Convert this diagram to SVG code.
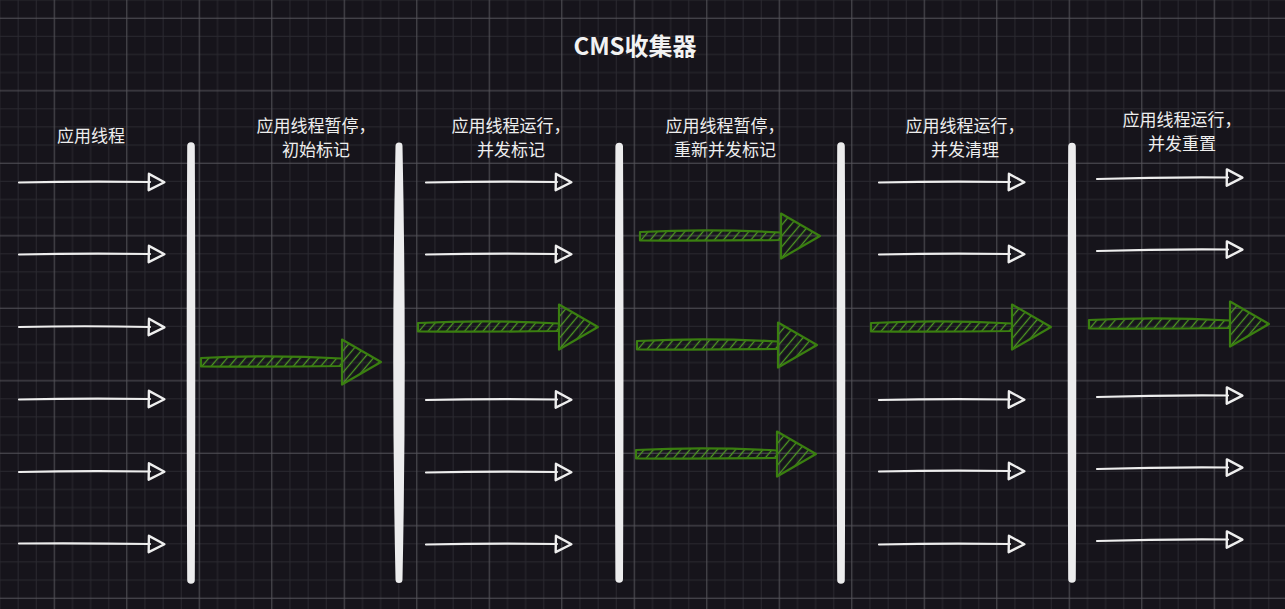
<svg xmlns="http://www.w3.org/2000/svg" xmlns:xlink="http://www.w3.org/1999/xlink" width="1285" height="609" viewBox="0 0 1285 609">
<style>
.lbl{font-family:"Noto Sans CJK SC","Noto Sans",sans-serif;font-size:17px;fill:#eeeeee;text-anchor:middle}
.ttl{font-family:"Noto Sans CJK SC","Noto Sans",sans-serif;font-size:24px;font-weight:bold;fill:#f2f2f2;text-anchor:middle}
.bar{fill:#ececed}
.w{fill:none;stroke:#eeeeee;stroke-width:2.2;stroke-linecap:round;marker-end:url(#ah)}
.g{fill:url(#hatch);stroke:#3a7f10;stroke-width:2.2;stroke-linejoin:round}
.mn{stroke:#2a2930;stroke-width:1}
.mj{stroke:#55545a;stroke-width:1}
</style>
<defs>
<pattern id="grid" x="9" y="9" width="72.5" height="72.5" patternUnits="userSpaceOnUse">
<line class="mn" x1="9.125" y1="0" x2="9.125" y2="72.5"/>
<line class="mn" x1="27.25" y1="0" x2="27.25" y2="72.5"/>
<line class="mn" x1="63.5" y1="0" x2="63.5" y2="72.5"/>
<line class="mn" x1="0" y1="27.25" x2="72.5" y2="27.25"/>
<line class="mn" x1="0" y1="45.375" x2="72.5" y2="45.375"/>
<line class="mn" x1="0" y1="63.5" x2="72.5" y2="63.5"/>
<line class="mj" x1="45.375" y1="0" x2="45.375" y2="72.5"/>
<line class="mj" x1="0" y1="9.125" x2="72.5" y2="9.125"/>
</pattern>
<pattern id="hatch" width="7" height="7" patternUnits="userSpaceOnUse" patternTransform="rotate(40)">
<line x1="3.5" y1="0" x2="3.5" y2="7" stroke="#4e9a22" stroke-width="1.3"/>
</pattern>
<marker id="ah" markerUnits="userSpaceOnUse" markerWidth="24" markerHeight="24" viewBox="-4 -10 20 20" refX="0" refY="0" orient="auto" overflow="visible">
<path d="M-1,-6.8 L12,0 L-1,6.8 Z" fill="none" stroke="#eeeeee" stroke-width="2" stroke-linejoin="round"/>
</marker>
<g id="ga">
<path class="g" d="M0,-4 Q70,-7.5 141,-3.5 L141,4 Q70,5 0,4.5 Z"/>
<path class="g" d="M141,-22.5 L180,0 L141,22.5 Z"/>
</g>
</defs>
<rect width="1285" height="609" fill="#16141b"/>
<rect width="1285" height="609" fill="url(#grid)"/>

<g id="title"><text class="ttl" x="635" y="55">CMS收集器</text></g>

<g id="label1"><text class="lbl" x="91" y="142">应用线程</text></g>
<g id="label2"><text class="lbl" x="316" y="132">应用线程暂停，</text><text class="lbl" x="316" y="156">初始标记</text></g>
<g id="label3"><text class="lbl" x="511" y="132">应用线程运行，</text><text class="lbl" x="511" y="156">并发标记</text></g>
<g id="label4"><text class="lbl" x="725" y="132">应用线程暂停，</text><text class="lbl" x="725" y="156">重新并发标记</text></g>
<g id="label5"><text class="lbl" x="965" y="132">应用线程运行，</text><text class="lbl" x="965" y="156">并发清理</text></g>
<g id="label6"><text class="lbl" x="1182" y="126">应用线程运行，</text><text class="lbl" x="1182" y="150">并发重置</text></g>

<g id="bar1"><path class="bar" d="M187.2,146 Q186.2,362 187.2,580 A3.8,3.8 0 0 0 194.8,580 Q195.8,362 194.8,146 A3.8,3.8 0 0 0 187.2,146 Z"/></g>
<g id="bar2"><path class="bar" d="M395.5,146 Q391,362 395.5,579.5 A3.5,3.5 0 0 0 402.5,579.5 Q407,362 402.5,146 A3.5,3.5 0 0 0 395.5,146 Z"/></g>
<g id="bar3"><path class="bar" d="M615.4,146.5 Q614.4,362 615.4,579 A3.8,3.8 0 0 0 623,579 Q624,362 623,146.5 A3.8,3.8 0 0 0 615.4,146.5 Z"/></g>
<g id="bar4"><path class="bar" d="M837.2,146 Q836.2,362 837.2,580 A3.8,3.8 0 0 0 844.8,580 Q845.8,362 844.8,146 A3.8,3.8 0 0 0 837.2,146 Z"/></g>
<g id="bar5"><path class="bar" d="M1068.2,146.5 Q1067.2,362 1068.2,579 A3.8,3.8 0 0 0 1075.8,579 Q1076.8,362 1075.8,146.5 A3.8,3.8 0 0 0 1068.2,146.5 Z"/></g>

<g id="connectors">
<path class="w" d="M19,182.5 Q85,181 150,182"/>
<path class="w" d="M19,254.5 Q85,253 150,254"/>
<path class="w" d="M19,327 Q85,325.5 150,327"/>
<path class="w" d="M19,399.5 Q85,398 150,399"/>
<path class="w" d="M19,472 Q85,470.5 150,471.5"/>
<path class="w" d="M19,543.5 Q85,543 150,544"/>

<path class="w" d="M426,182.5 Q492,181 557,182"/>
<path class="w" d="M426,254.5 Q492,253 557,254"/>
<path class="w" d="M426,400 Q492,398.5 557,399.5"/>
<path class="w" d="M426,472.5 Q492,471 557,472"/>
<path class="w" d="M426,544.5 Q492,543 557,544"/>

<path class="w" d="M879,182.5 Q945,181 1010,182"/>
<path class="w" d="M879,254.5 Q945,253 1010,254"/>
<path class="w" d="M879,400 Q945,398.5 1010,399.5"/>
<path class="w" d="M879,471.5 Q945,470 1010,471"/>
<path class="w" d="M879,544.5 Q945,543 1010,544"/>

<path class="w" d="M1097,179 Q1163,177 1228,177.5"/>
<path class="w" d="M1097,251 Q1163,249 1228,249.5"/>
<path class="w" d="M1097,397 Q1163,395 1228,395.5"/>
<path class="w" d="M1097,469 Q1163,467 1228,467.5"/>
<path class="w" d="M1097,541 Q1163,539 1228,539.5"/>
</g>

<g id="green-arrows">
<use xlink:href="#ga" x="201" y="362"/>
<use xlink:href="#ga" x="418" y="327"/>
<use xlink:href="#ga" x="640" y="236"/>
<use xlink:href="#ga" x="637" y="345"/>
<use xlink:href="#ga" x="636" y="454"/>
<use xlink:href="#ga" x="871" y="327"/>
<use xlink:href="#ga" x="1089" y="324"/>
</g>
</svg>
